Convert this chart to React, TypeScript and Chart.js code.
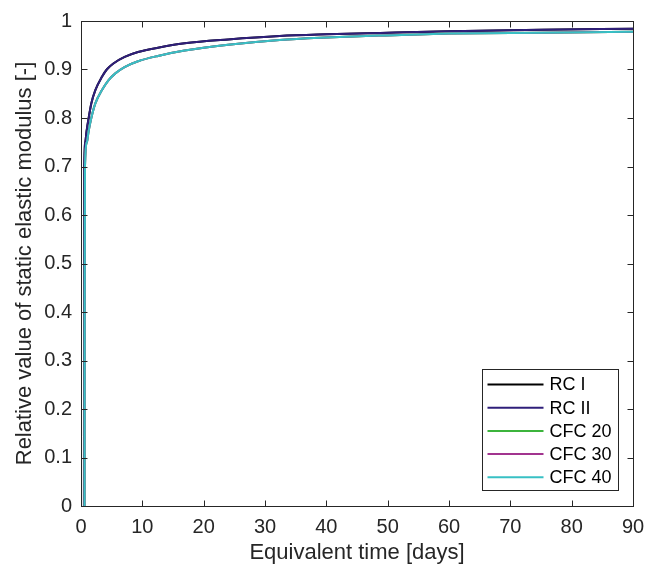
import React, { useEffect, useRef } from "react";
import { Chart, registerables } from "chart.js";

Chart.register(...registerables);

// ---- data ----
const timeRC = [0.48, 0.5, 0.54, 0.7, 0.9, 1.25, 1.68, 2.34, 3.42, 4.2, 5.22, 7.12, 9.3, 12.55, 16.9, 24, 32.4, 40, 48.8, 60, 75, 90];
const rcI = [0, 0.4, 0.7, 0.75, 0.772, 0.8, 0.83, 0.8575, 0.885, 0.9, 0.912, 0.926, 0.936, 0.945, 0.954, 0.962, 0.969, 0.9725, 0.9755, 0.979, 0.982, 0.984];
const rcII = [0, 0.4, 0.7, 0.75, 0.772, 0.8, 0.83, 0.8575, 0.885, 0.9, 0.912, 0.926, 0.936, 0.945, 0.954, 0.962, 0.969, 0.9725, 0.9755, 0.979, 0.982, 0.984];

const timeCFC = [0.58, 0.6, 0.65, 0.96, 1.23, 1.68, 2.34, 3.42, 4.5, 5.6, 7.1, 9.3, 12.55, 16.9, 24, 32.4, 40, 48.8, 60, 75, 90];
const cfc20 = [0, 0.4, 0.7, 0.75, 0.772, 0.8, 0.83, 0.8575, 0.878, 0.892, 0.905, 0.917, 0.928, 0.939, 0.951, 0.961, 0.966, 0.97, 0.974, 0.976, 0.978];
const cfc30 = [0, 0.4, 0.7, 0.75, 0.772, 0.8, 0.83, 0.8575, 0.878, 0.892, 0.905, 0.917, 0.928, 0.939, 0.951, 0.961, 0.966, 0.97, 0.974, 0.976, 0.978];
const cfc40 = [0, 0.4, 0.7, 0.75, 0.772, 0.8, 0.83, 0.8575, 0.878, 0.892, 0.905, 0.917, 0.928, 0.939, 0.951, 0.961, 0.966, 0.97, 0.974, 0.976, 0.978];

const seriesLabels = ["RC I", "RC II", "CFC 20", "CFC 30", "CFC 40"];
const seriesColors = ["#000000", "#2f1f7a", "#3cb43c", "#a2348f", "#38c0c4"];

const xTicks = [0, 10, 20, 30, 40, 50, 60, 70, 80, 90];
const yTicks = [0, 0.1, 0.2, 0.3, 0.4, 0.5, 0.6, 0.7, 0.8, 0.9, 1];

const xTitle = "Equivalent time [days]";
const yTitle = "Relative value of static elastic modulus [-]";

const FONT = "'Liberation Sans', Arial, Helvetica, sans-serif";
const AXIS_COLOR = "#262626";

const pts = (t: number[], v: number[]) => t.map((x, i) => ({ x, y: v[i] }));

const matlabPlugin = {
  id: "matlabBox",
  afterDraw(chart: any) {
    const { ctx, chartArea, scales } = chart;
    const { left, right, top, bottom } = chartArea;
    ctx.save();
    ctx.strokeStyle = AXIS_COLOR;
    ctx.lineWidth = 1;
    const L = Math.floor(left) + 0.5;
    const R = Math.floor(right) + 0.5;
    const T = Math.floor(top) + 0.5;
    const B = Math.floor(bottom) + 0.5;
    ctx.strokeRect(L, T, R - L, B - T);
    const tl = 6;
    ctx.beginPath();
    xTicks.forEach((v) => {
      const px = Math.round(scales.x.getPixelForValue(v)) + 0.5;
      ctx.moveTo(px, B);
      ctx.lineTo(px, B - tl);
      ctx.moveTo(px, T);
      ctx.lineTo(px, T + tl);
    });
    yTicks.forEach((v) => {
      const py = Math.round(scales.y.getPixelForValue(v)) + 0.5;
      ctx.moveTo(L, py);
      ctx.lineTo(L + tl, py);
      ctx.moveTo(R, py);
      ctx.lineTo(R - tl, py);
    });
    ctx.stroke();

    // legend inside the axes, bottom-right
    const w = 136;
    const h = 121;
    const bx = Math.floor(right - 15 - w) + 0.5;
    const by = Math.floor(bottom - 16 - h) + 0.5;
    ctx.fillStyle = "#ffffff";
    ctx.fillRect(bx, by, w, h);
    ctx.strokeStyle = AXIS_COLOR;
    ctx.lineWidth = 1;
    ctx.strokeRect(bx, by, w, h);
    ctx.font = `18px ${FONT}`;
    ctx.textBaseline = "middle";
    ctx.textAlign = "left";
    chart.data.datasets.forEach((ds: any, i: number) => {
      const cy = by + 15 + i * 23.2;
      ctx.strokeStyle = ds.borderColor;
      ctx.lineWidth = 2;
      ctx.beginPath();
      ctx.moveTo(bx + 5, cy);
      ctx.lineTo(bx + 61, cy);
      ctx.stroke();
      ctx.fillStyle = "#000000";
      ctx.fillText(ds.label, bx + 67, cy + 1);
    });
    ctx.restore();
  },
};

export default function App() {
  const ref = useRef<HTMLCanvasElement | null>(null);

  useEffect(() => {
    if (!ref.current) return;
    const seriesData = [pts(timeRC, rcI), pts(timeRC, rcII), pts(timeCFC, cfc20), pts(timeCFC, cfc30), pts(timeCFC, cfc40)];
    const chart = new Chart(ref.current, {
      type: "line",
      data: {
        datasets: seriesData.map((d, i) => ({
          label: seriesLabels[i],
          data: d,
          borderColor: seriesColors[i],
          backgroundColor: seriesColors[i],
          borderWidth: 2,
          pointRadius: 0,
          fill: false,
          cubicInterpolationMode: "monotone" as const,
          order: seriesLabels.length - i,
        })),
      },
      options: {
        responsive: false,
        animation: false,
        layout: { padding: { top: 17, right: 23, left: 0, bottom: 0 } },
        plugins: { legend: { display: false }, tooltip: { enabled: false } },
        scales: {
          x: {
            type: "linear",
            min: 0,
            max: 90,
            afterBuildTicks: (scale: any) => {
              scale.ticks = xTicks.map((v) => ({ value: v }));
            },
            afterFit: (scale: any) => {
              scale.height = 67;
            },
            grid: { display: false, drawTicks: false },
            border: { display: false },
            ticks: {
              padding: 9,
              color: AXIS_COLOR,
              font: { family: FONT, size: 20 },
              maxRotation: 0,
              callback: (v: any) => String(Number(Number(v).toFixed(1))),
            },
            title: {
              display: true,
              text: xTitle,
              color: AXIS_COLOR,
              font: { family: FONT, size: 22 },
              padding: { top: 0, bottom: 7 },
            },
          },
          y: {
            type: "linear",
            min: 0,
            max: 1,
            afterBuildTicks: (scale: any) => {
              scale.ticks = yTicks.map((v) => ({ value: v }));
            },
            afterFit: (scale: any) => {
              scale.width = 81;
            },
            grid: { display: false, drawTicks: false },
            border: { display: false },
            ticks: {
              padding: 9,
              color: AXIS_COLOR,
              font: { family: FONT, size: 20 },
              callback: (v: any) => String(Number(Number(v).toFixed(1))),
            },
            title: {
              display: true,
              text: yTitle,
              color: AXIS_COLOR,
              font: { family: FONT, size: 22 },
              padding: { top: 12, bottom: 0 },
            },
          },
        },
      },
      plugins: [matlabPlugin],
    } as any);
    return () => chart.destroy();
  }, []);

  return (
    <div style={{ position: "fixed", left: 0, top: 0, width: 656, height: 573, background: "#fff" }}>
      <canvas ref={ref} width={656} height={573} style={{ display: "block" }} />
    </div>
  );
}
